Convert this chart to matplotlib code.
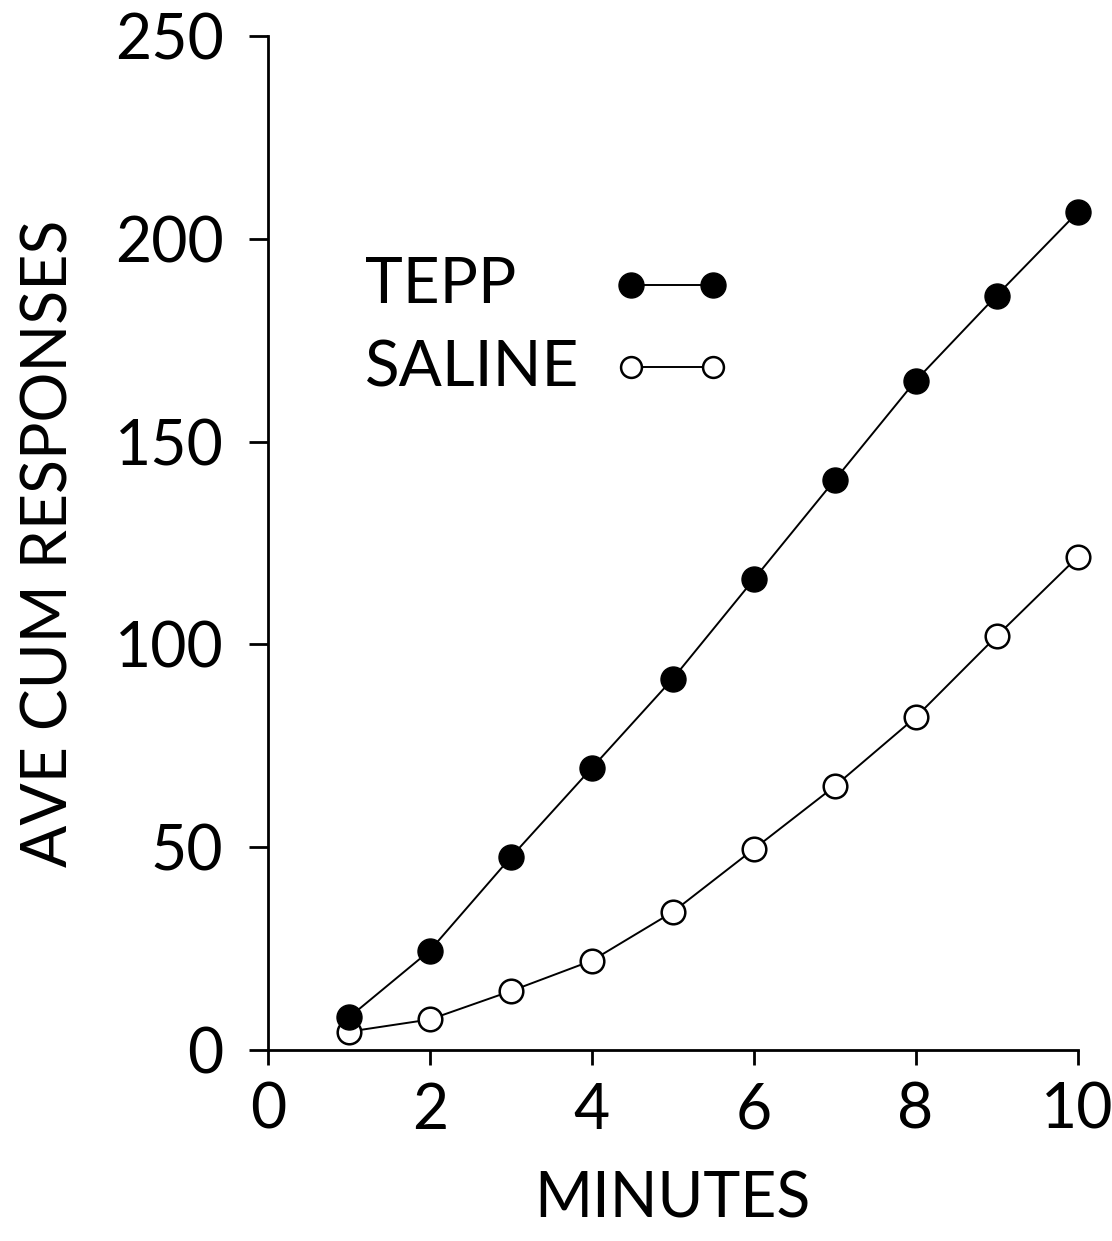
import matplotlib
matplotlib.use("Agg")
import matplotlib.pyplot as plt

minutes = [1, 2, 3, 4, 5, 6, 7, 8, 9, 10]
tepp = [8, 24.5, 47.5, 69.5, 91.5, 116, 140.5, 165, 186, 206.5]
saline = [4.5, 7.5, 14.5, 22, 34, 49.5, 65, 82, 102, 121.5]

x_ticks = [0, 2, 4, 6, 8, 10]
y_ticks = [0, 50, 100, 150, 200, 250]

plt.rcParams['font.family'] = ['Lato', 'DejaVu Sans']

fig = plt.figure(figsize=(11.12, 12.41), dpi=100)
ax = fig.add_axes([0.241, 0.154, 0.728, 0.817])

ax.plot(minutes, tepp, color='black', lw=1.4, marker='o', ms=18,
        mfc='black', mec='black', clip_on=False, zorder=3)
ax.plot(minutes, saline, color='black', lw=1.4, marker='o', ms=17,
        mfc='white', mec='black', mew=1.8, clip_on=False, zorder=2)

# legende faite a la main
ax.text(1.2, 188.5, 'TEPP', fontsize=46, va='center', ha='left')
ax.text(1.2, 168, 'SALINE', fontsize=46, va='center', ha='left')
ax.plot([4.49, 5.5], [188.5, 188.5], color='black', lw=1.4, marker='o', ms=18,
        mfc='black', mec='black')
ax.plot([4.49, 5.5], [168.5, 168.5], color='black', lw=1.4, marker='o', ms=15,
        mfc='white', mec='black', mew=1.8)

ax.set_xlim(0, 10)
ax.set_ylim(0, 250)
ax.set_xticks(x_ticks)
ax.set_yticks(y_ticks)
ax.set_xticklabels([str(v) for v in x_ticks], fontsize=45)
ax.set_yticklabels([str(v) for v in y_ticks], fontsize=45)
ax.tick_params(axis='x', direction='out', length=11, width=2, pad=12)
ax.tick_params(axis='y', direction='out', length=14, width=2, pad=18)

for s in ['top', 'right']:
    ax.spines[s].set_visible(False)
for s in ['left', 'bottom']:
    ax.spines[s].set_linewidth(2)

ax.set_xlabel('MINUTES', fontsize=45, labelpad=22)
ax.set_ylabel('AVE CUM RESPONSES', fontsize=45, labelpad=26)

fig.savefig('out.png', dpi=100)
